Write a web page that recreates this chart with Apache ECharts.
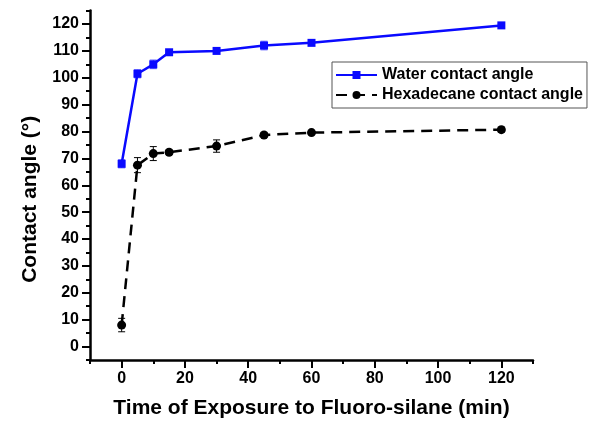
<!DOCTYPE html>
<html>
<head>
<meta charset="utf-8">
<script src="https://cdn.jsdelivr.net/npm/echarts@6/dist/echarts.min.js"></script>
<style>
  html, body { margin: 0; padding: 0; background: #fff; }
  #chart { width: 600px; height: 432px; }
</style>
</head>
<body>
<div id="chart"></div>
<script>
// exposure time (min)
const times = [0, 5, 10, 15, 30, 45, 60, 120];
// water contact angle and error
const waterAngle = [68, 101.5, 105, 109.5, 110, 112, 113, 119.5];
const waterErr = [1.5, 1.5, 1.6, 0.6, 0.6, 1.6, 0.6, 0.6];
// hexadecane contact angle and error
const hexAngle = [8, 67.5, 71.8, 72.3, 74.6, 78.7, 79.6, 80.7];
const hexErr = [2.5, 2.8, 2.6, 0.8, 2.3, 0.8, 0.6, 0.9];
// tick labels
const xTicks = [0, 20, 40, 60, 80, 100, 120];
const yTicks = [0, 10, 20, 30, 40, 50, 60, 70, 80, 90, 100, 110, 120];

const FONT = 'Liberation Sans';

function toPairs(xs, ys) {
    let out = [];
    for (let i = 0; i < xs.length; i++) out.push([xs[i], ys[i]]);
    return out;
}
function toErr(xs, ys, es) {
    let out = [];
    for (let i = 0; i < xs.length; i++) out.push([xs[i], ys[i] - es[i], ys[i] + es[i]]);
    return out;
}

function errorBar(color) {
    return function (params, api) {
        let x = api.value(0);
        let top = api.coord([x, api.value(2)]);
        let bot = api.coord([x, api.value(1)]);
        let w = 3.5;
        let style = { stroke: color, lineWidth: 1 };
        return {
            type: 'group',
            children: [
                { type: 'line', shape: { x1: top[0], y1: top[1], x2: bot[0], y2: bot[1] }, style: style },
                { type: 'line', shape: { x1: top[0] - w, y1: top[1], x2: top[0] + w, y2: top[1] }, style: style },
                { type: 'line', shape: { x1: bot[0] - w, y1: bot[1], x2: bot[0] + w, y2: bot[1] }, style: style }
            ]
        };
    };
}

let myChart = echarts.init(document.getElementById('chart'));

let option = {
    animation: false,
    grid: { left: 90, right: 67, top: 10.6, bottom: 72 },
    legend: {
        data: ['Water contact angle', 'Hexadecane contact angle'],
        orient: 'vertical',
        left: 332,
        top: 62,
        padding: [5, 4, 5, 3],
        itemGap: 4,
        itemWidth: 41,
        itemHeight: 10,
        borderColor: '#555',
        borderWidth: 1,
        textStyle: { fontFamily: FONT, fontWeight: 'bold', fontSize: 16, color: '#000' }
    },
    xAxis: [
        {
            type: 'value',
            min: -10,
            max: 130,
            name: 'Time of Exposure to Fluoro-silane (min)',
            nameLocation: 'middle',
            nameGap: 38,
            nameTextStyle: { fontFamily: FONT, fontWeight: 'bold', fontSize: 21, color: '#000' },
            axisLine: { onZero: false, lineStyle: { color: '#000', width: 2.5 } },
            axisTick: { customValues: xTicks, length: 8, lineStyle: { color: '#000', width: 2 } },
            axisLabel: { customValues: xTicks, margin: 11, fontFamily: FONT, fontWeight: 'bold', fontSize: 16, color: '#000' },
            splitLine: { show: false }
        },
        {
            // minor ticks
            type: 'value',
            position: 'bottom',
            min: -10,
            max: 130,
            interval: 20,
            axisLine: { show: false, onZero: false },
            axisTick: { length: 4, lineStyle: { color: '#000', width: 2 } },
            axisLabel: { show: false },
            splitLine: { show: false }
        }
    ],
    yAxis: [
        {
            type: 'value',
            min: -5,
            max: 125,
            name: 'Contact angle (°)',
            nameLocation: 'middle',
            nameGap: 49,
            nameTextStyle: { fontFamily: FONT, fontWeight: 'bold', fontSize: 21, color: '#000', padding: [0, 28, 0, 0] },
            axisLine: { onZero: false, lineStyle: { color: '#000', width: 2.5 } },
            axisTick: { customValues: yTicks, length: 8, lineStyle: { color: '#000', width: 2 } },
            axisLabel: { customValues: yTicks, margin: 11, fontFamily: FONT, fontWeight: 'bold', fontSize: 16, color: '#000' },
            splitLine: { show: false }
        },
        {
            // minor ticks
            type: 'value',
            position: 'left',
            min: -5,
            max: 125,
            interval: 10,
            axisLine: { show: false, onZero: false },
            axisTick: { length: 4, lineStyle: { color: '#000', width: 2 } },
            axisLabel: { show: false },
            splitLine: { show: false }
        }
    ],
    series: [
        {
            type: 'custom',
            name: 'water_err',
            renderItem: errorBar('#5555ff'),
            data: toErr(times, waterAngle, waterErr),
            z: 1
        },
        {
            type: 'custom',
            name: 'hex_err',
            renderItem: errorBar('#000'),
            data: toErr(times, hexAngle, hexErr),
            z: 1
        },
        {
            name: 'Water contact angle',
            type: 'line',
            data: toPairs(times, waterAngle),
            symbol: 'rect',
            symbolSize: 8,
            color: '#0a0aff',
            lineStyle: { width: 2.5, color: '#0a0aff' },
            itemStyle: { color: '#0a0aff' },
            z: 3
        },
        {
            name: 'Hexadecane contact angle',
            type: 'line',
            data: toPairs(times, hexAngle),
            symbol: 'circle',
            symbolSize: 9,
            color: '#000',
            lineStyle: { width: 2.5, color: '#000', type: [11, 7] },
            itemStyle: { color: '#000' },
            z: 3
        }
    ]
};

myChart.setOption(option);
</script>
</body>
</html>
